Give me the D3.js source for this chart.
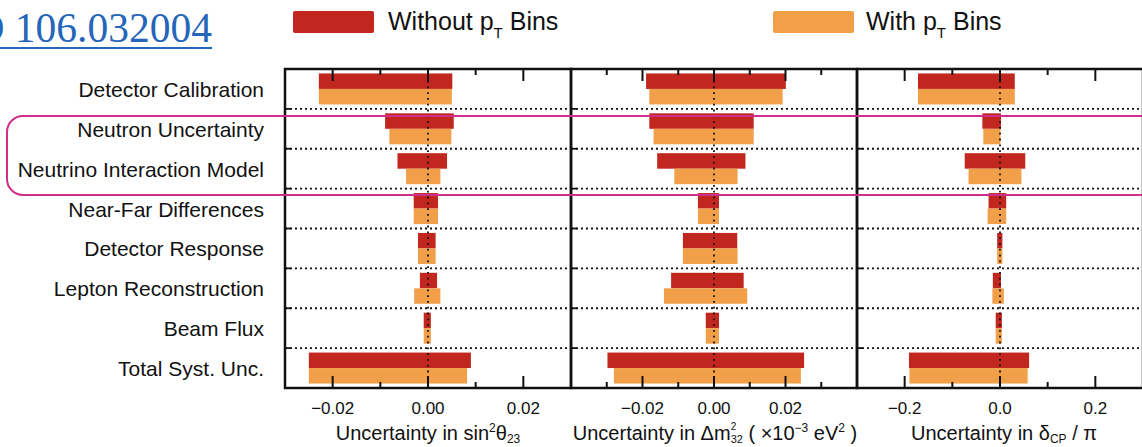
<!DOCTYPE html>
<html>
<head>
<meta charset="utf-8">
<script src="https://cdn.jsdelivr.net/npm/d3@7"></script>
<style>
  body { margin: 0; background: #fff; }
  svg text { font-family: "Liberation Sans", Arial, Helvetica, sans-serif; fill: #111; }
</style>
</head>
<body>
<svg id="chart" width="1142" height="447"></svg>
<script>
// categories, top to bottom
var categories = ["Detector Calibration", "Neutron Uncertainty", "Neutrino Interaction Model",
  "Near-Far Differences", "Detector Response", "Lepton Reconstruction", "Beam Flux", "Total Syst. Unc."];

// [low, high] shifts
var sin2Without = [[-0.0229, 0.0051], [-0.0090, 0.0054], [-0.0064, 0.0040], [-0.0030, 0.0021],
  [-0.0021, 0.0016], [-0.0017, 0.0019], [-0.0009, 0.0006], [-0.0250, 0.0090]];
var sin2With = [[-0.0229, 0.0050], [-0.0081, 0.0049], [-0.0046, 0.0026], [-0.0030, 0.0021],
  [-0.0021, 0.0016], [-0.0029, 0.0026], [-0.0009, 0.0006], [-0.0250, 0.0082]];

var dm2Without = [[-0.0190, 0.0201], [-0.0181, 0.0111], [-0.0159, 0.0088], [-0.0045, 0.0014],
  [-0.0087, 0.0065], [-0.0120, 0.0083], [-0.0023, 0.0014], [-0.0298, 0.0252]];
var dm2With = [[-0.0181, 0.0192], [-0.0169, 0.0111], [-0.0111, 0.0066], [-0.0045, 0.0014],
  [-0.0087, 0.0066], [-0.0140, 0.0093], [-0.0023, 0.0014], [-0.0280, 0.0243]];

var dcpWithout = [[-0.172, 0.031], [-0.037, 0.002], [-0.074, 0.053], [-0.024, 0.013],
  [-0.006, 0.005], [-0.015, 0.002], [-0.009, 0.004], [-0.191, 0.061]];
var dcpWith = [[-0.172, 0.031], [-0.035, 0.001], [-0.066, 0.045], [-0.026, 0.013],
  [-0.006, 0.005], [-0.016, 0.008], [-0.009, 0.004], [-0.190, 0.058]];

var sin2Ticks = [-0.02, 0.00, 0.02], sin2Minor = [-0.01, 0.01];
var dm2Ticks = [-0.02, 0.00, 0.02], dm2Minor = [-0.03, -0.01, 0.01, 0.03];
var dcpTicks = [-0.2, 0.0, 0.2], dcpMinor = [-0.1, 0.1];

var colWithout = "#c1271e", colWith = "#f19f48";

var svg = d3.select("#chart");
var top_ = 69, bottom_ = 388;

var y = d3.scaleBand().domain(categories).range([top_, bottom_]);

var panels = [
  {x0: 285, x1: 571, dom: [-0.03, 0.03], a: sin2Without, b: sin2With, ticks: sin2Ticks, minor: sin2Minor, fmt: d3.format(".2f")},
  {x0: 571, x1: 857, dom: [-0.04, 0.04], a: dm2Without, b: dm2With, ticks: dm2Ticks, minor: dm2Minor, fmt: d3.format(".2f")},
  {x0: 857, x1: 1143, dom: [-0.3, 0.3], a: dcpWithout, b: dcpWith, ticks: dcpTicks, minor: dcpMinor, fmt: d3.format(".1f")}
];

var barH = 15.5;

panels.forEach(function(p) {
  var x = d3.scaleLinear().domain(p.dom).range([p.x0, p.x1]);
  var g = svg.append("g");

  // bars
  g.selectAll("rect.without").data(p.a).enter().append("rect")
    .attr("x", function(d) { return x(d[0]); })
    .attr("width", function(d) { return x(d[1]) - x(d[0]); })
    .attr("y", function(d, i) { return y(categories[i]) + y.bandwidth() / 2 - barH; })
    .attr("height", barH)
    .attr("fill", colWithout);
  g.selectAll("rect.with").data(p.b).enter().append("rect")
    .attr("x", function(d) { return x(d[0]); })
    .attr("width", function(d) { return x(d[1]) - x(d[0]); })
    .attr("y", function(d, i) { return y(categories[i]) + y.bandwidth() / 2; })
    .attr("height", barH)
    .attr("fill", colWith);

  // dotted row separators
  g.selectAll("line.sep").data(categories.slice(1)).enter().append("line")
    .attr("x1", p.x0).attr("x2", p.x1)
    .attr("y1", function(d) { return y(d); })
    .attr("y2", function(d) { return y(d); })
    .attr("stroke", "#111").attr("stroke-width", 1.8)
    .attr("stroke-dasharray", "2,3");
  // small ticks at the border for each separator
  g.selectAll("line.sept").data(categories.slice(1)).enter().append("line")
    .attr("x1", p.x0).attr("x2", p.x0 + 6)
    .attr("y1", function(d) { return y(d); })
    .attr("y2", function(d) { return y(d); })
    .attr("stroke", "#111").attr("stroke-width", 1.8);

  // zero line
  g.append("line")
    .attr("x1", x(0)).attr("x2", x(0)).attr("y1", top_).attr("y2", bottom_)
    .attr("stroke", "#111").attr("stroke-width", 1.8)
    .attr("stroke-dasharray", "1.8,4");

  // ticks top and bottom
  [[p.ticks, 12], [p.minor, 6]].forEach(function(t) {
    g.selectAll(null).data(t[0]).enter().append("line")
      .attr("x1", x).attr("x2", x).attr("y1", top_).attr("y2", top_ + t[1])
      .attr("stroke", "#111").attr("stroke-width", 2);
    g.selectAll(null).data(t[0]).enter().append("line")
      .attr("x1", x).attr("x2", x).attr("y1", bottom_).attr("y2", bottom_ - t[1])
      .attr("stroke", "#111").attr("stroke-width", 2);
  });

  // tick labels
  g.selectAll("text.tl").data(p.ticks).enter().append("text")
    .attr("x", x).attr("y", 414)
    .attr("text-anchor", "middle")
    .style("font-size", "17px")
    .text(function(d) { return p.fmt(d).replace("-", "\u2212"); });

  // frame
  g.append("rect")
    .attr("x", p.x0).attr("y", top_)
    .attr("width", p.x1 - p.x0).attr("height", bottom_ - top_)
    .attr("fill", "none").attr("stroke", "#111").attr("stroke-width", 2.5);
});

// category labels
svg.selectAll("text.cat").data(categories).enter().append("text")
  .attr("x", 264)
  .attr("y", function(d) { return y(d) + y.bandwidth() / 2 + 8; })
  .attr("text-anchor", "end")
  .style("font-size", "21px")
  .text(function(d) { return d; });

// axis titles
var tY = 440;
var t1 = svg.append("text").attr("x", 428).attr("y", tY).attr("text-anchor", "middle").style("font-size", "20px");
t1.append("tspan").text("Uncertainty in sin");
t1.append("tspan").attr("dy", -8).style("font-size", "12px").text("2");
t1.append("tspan").attr("dy", 8).text("\u03b8");
t1.append("tspan").attr("dy", 3).style("font-size", "12px").text("23");

// sub/superscript pair on Δm drawn as two texts so they stack
var t2 = svg.append("text").attr("x", 715).attr("y", tY).attr("text-anchor", "middle").style("font-size", "20px");
t2.append("tspan").text("Uncertainty in \u0394m");
t2.append("tspan").attr("dy", 3).style("font-size", "11px").text("32");
t2.append("tspan").attr("dy", -3).text(" ( \u00d710");
t2.append("tspan").attr("dy", -8).style("font-size", "12px").text("\u22123");
t2.append("tspan").attr("dy", 8).text(" eV");
t2.append("tspan").attr("dy", -8).style("font-size", "12px").text("2");
t2.append("tspan").attr("dy", 8).text(" )");
var subBox = t2.select("tspan:nth-child(2)").node();
var sx = subBox.getStartPositionOfChar(0).x;
svg.append("text").attr("x", sx).attr("y", tY - 10).style("font-size", "10px").text("2");

var t3 = svg.append("text").attr("x", 1004).attr("y", tY).attr("text-anchor", "middle").style("font-size", "20px");
t3.append("tspan").text("Uncertainty in \u03b4");
t3.append("tspan").attr("dy", 3).style("font-size", "12px").text("CP");
t3.append("tspan").attr("dy", -3).text(" / \u03c0");

// legend
var legend = [{label: "Without p", col: colWithout, x: 293, tx: 388}, {label: "With p", col: colWith, x: 773, tx: 866}];
legend.forEach(function(l) {
  svg.append("rect").attr("x", l.x).attr("y", 11).attr("width", 81).attr("height", 22)
    .attr("rx", 2).attr("fill", l.col);
  var t = svg.append("text").attr("x", l.tx).attr("y", 30).style("font-size", "25px");
  t.append("tspan").text(l.label);
  t.append("tspan").attr("dy", 8).style("font-size", "15px").text("T");
  t.append("tspan").attr("dy", -8).text(" Bins");
});

// link text, cut at the left edge
svg.append("text").attr("x", 212).attr("y", 42).attr("text-anchor", "end")
  .style("font-family", "'Liberation Serif', 'Times New Roman', serif")
  .style("font-size", "41.5px").style("fill", "#2566b8")
  .text("D 106.032004");
svg.append("rect").attr("x", 0).attr("y", 47).attr("width", 212).attr("height", 2).attr("fill", "#2566b8");

// highlight box
svg.append("rect").attr("x", 7).attr("y", 116).attr("width", 1200).attr("height", 79)
  .attr("rx", 16).attr("fill", "none").attr("stroke", "#cf2e8a").attr("stroke-width", 2);
</script>
</body>
</html>
